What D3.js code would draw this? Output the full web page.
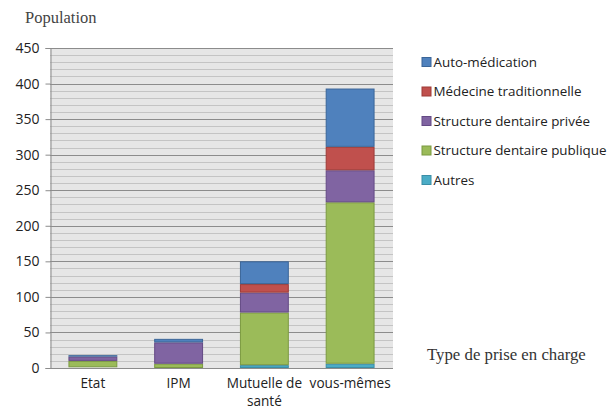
<!DOCTYPE html>
<html>
<head>
<meta charset="utf-8">
<script src="https://cdn.jsdelivr.net/npm/d3@7"></script>
<style>
  body { margin: 0; background: #fff; }
  svg { display: block; }
</style>
</head>
<body>
<svg id="chart" width="609" height="413"></svg>
<script>
const categories = ['Etat', 'IPM', 'Mutuelle de santé', 'vous-mêmes'];
const seriesNames = ['Autres', 'Structure dentaire publique', 'Structure dentaire privée', 'Médecine traditionnelle', 'Auto-médication'];
const autres = [1, 0, 4, 6];
const publique = [9, 6, 74, 227];
const privee = [6, 30, 28, 45];
const traditionnelle = [0, 0, 12, 33];
const automedication = [2, 5, 32, 82];
const yTicks = [0, 50, 100, 150, 200, 250, 300, 350, 400, 450];

const colors = ['#4BACC6', '#9BBB59', '#8064A2', '#C0504D', '#4F81BD'];
const strokes = ['#3b8ea6', '#7b9a41', '#644a85', '#9e3a37', '#3a6598'];

const rows = categories.map((c, i) => ({
  cat: c,
  s0: autres[i], s1: publique[i], s2: privee[i], s3: traditionnelle[i], s4: automedication[i]
}));
const keys = ['s0', 's1', 's2', 's3', 's4'];
const stacked = d3.stack().keys(keys)(rows);

const svg = d3.select('#chart');
const plotLeft = 50, plotRight = 393, plotTop = 48, plotBottom = 368;

const x = d3.scaleBand().domain(categories).range([plotLeft, plotRight]).paddingInner(0.43).paddingOuter(0.215);
const y = d3.scaleLinear().domain([0, 450]).range([plotBottom, plotTop]);

// plot background
svg.append('rect')
  .attr('x', plotLeft).attr('y', plotTop)
  .attr('width', plotRight - plotLeft).attr('height', plotBottom - plotTop)
  .attr('fill', '#e6e6e6');

// minor grid
svg.append('g').selectAll('line')
  .data(d3.range(10, 450, 10).filter(v => v % 50 !== 0))
  .join('line')
  .attr('x1', plotLeft).attr('x2', plotRight)
  .attr('y1', d => Math.round(y(d)) + 0.5).attr('y2', d => Math.round(y(d)) + 0.5)
  .attr('stroke', '#c4c4c4').attr('stroke-width', 1);

// major grid
svg.append('g').selectAll('line')
  .data(yTicks.filter(v => v > 0))
  .join('line')
  .attr('x1', plotLeft).attr('x2', plotRight)
  .attr('y1', d => Math.round(y(d)) + 0.5).attr('y2', d => Math.round(y(d)) + 0.5)
  .attr('stroke', '#8c8c8c').attr('stroke-width', 1);

// bars
svg.append('g').selectAll('g')
  .data(stacked)
  .join('g')
  .attr('fill', (d, i) => colors[i])
  .attr('stroke', (d, i) => strokes[i])
  .selectAll('rect')
  .data(d => d.filter(p => p[1] > p[0]))
  .join('rect')
  .attr('x', d => x(d.data.cat) + 0.5)
  .attr('width', x.bandwidth() - 1)
  .attr('y', d => y(d[1]) + 0.5)
  .attr('height', d => Math.max(0, y(d[0]) - y(d[1]) - 1))
  .attr('stroke-width', 1);

// y axis
const yAxis = svg.append('g')
  .attr('transform', `translate(${plotLeft + 0.5},0)`)
  .call(d3.axisLeft(y).tickValues(yTicks).tickSize(5).tickPadding(6));
yAxis.select('.domain').attr('stroke', '#8c8c8c');
yAxis.selectAll('.tick line').attr('stroke', '#8c8c8c');
yAxis.selectAll('.tick text')
  .attr('font-family', 'Open Sans, sans-serif').attr('font-size', 14).attr('fill', '#222');

// x axis
const xAxis = svg.append('g')
  .attr('transform', `translate(0,${plotBottom + 0.5})`)
  .call(d3.axisBottom(x).tickSize(0).tickPadding(10));
xAxis.select('.domain').attr('stroke', '#8c8c8c').attr('d', `M${plotLeft},0H${plotRight}`);
xAxis.selectAll('.tick text')
  .attr('font-family', 'Open Sans, sans-serif').attr('font-size', 13.6).attr('fill', '#222')
  .each(function(d) {
    const t = d3.select(this);
    if (d === 'Mutuelle de santé') {
      t.text(null);
      t.append('tspan').attr('x', 0).attr('dy', '0.71em').text('Mutuelle de');
      t.append('tspan').attr('x', 0).attr('dy', '1.3em').text('santé');
      t.attr('dy', null);
    }
  });

// titles
svg.append('text')
  .attr('x', 25).attr('y', 23)
  .attr('font-family', 'Liberation Serif, serif').attr('font-size', 16.5).attr('fill', '#444')
  .text('Population');
svg.append('text')
  .attr('x', 427).attr('y', 360)
  .attr('font-family', 'Liberation Serif, serif').attr('font-size', 16.8).attr('fill', '#333')
  .text('Type de prise en charge');

// legend (reverse order, top = last series)
const legendOrder = [4, 3, 2, 1, 0];
const legend = svg.append('g').selectAll('g')
  .data(legendOrder)
  .join('g')
  .attr('transform', (d, i) => `translate(422,${62 + i * 29.5})`);
legend.append('rect')
  .attr('x', 0).attr('y', -4.5).attr('width', 9).attr('height', 9)
  .attr('fill', d => colors[d]).attr('stroke', d => strokes[d]);
legend.append('text')
  .attr('x', 11.5).attr('y', 0).attr('dy', '0.35em')
  .attr('font-family', 'Open Sans, sans-serif').attr('font-size', 13.4).attr('fill', '#222')
  .text(d => seriesNames[d]);
</script>
</body>
</html>
